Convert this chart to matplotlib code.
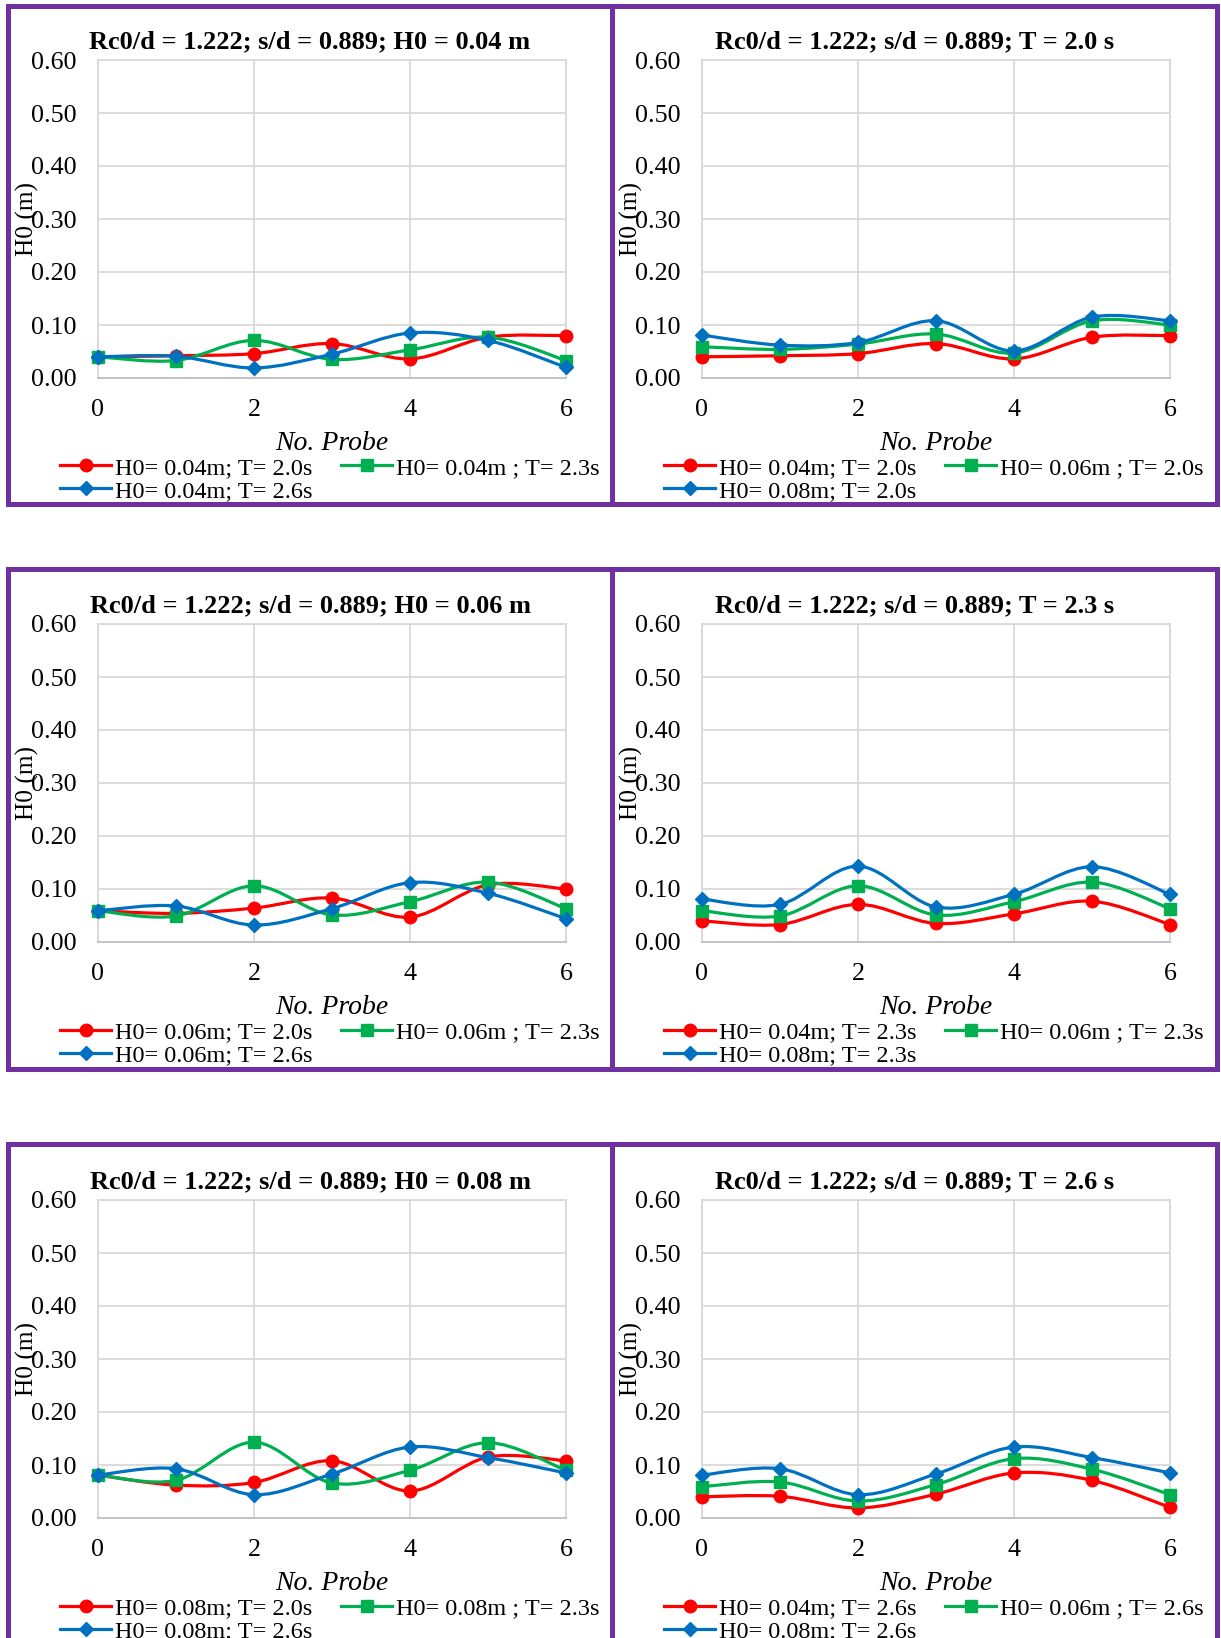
import numpy as np
import matplotlib
matplotlib.use("Agg")
import matplotlib.pyplot as plt
from matplotlib.path import Path
from matplotlib.patches import PathPatch, Rectangle
from matplotlib.lines import Line2D

plt.rcParams['font.family'] = ['Liberation Serif', 'DejaVu Serif']

probe = [0, 1, 2, 3, 4, 5, 6]

# wave height H0 (m) at each probe, one list per (H0, T) test
h04_t20 = [0.040, 0.042, 0.046, 0.065, 0.036, 0.077, 0.080]
h04_t23 = [0.040, 0.033, 0.071, 0.035, 0.053, 0.077, 0.033]
h04_t26 = [0.040, 0.041, 0.019, 0.045, 0.085, 0.071, 0.020]
h06_t20 = [0.059, 0.054, 0.064, 0.083, 0.047, 0.108, 0.100]
h06_t23 = [0.059, 0.049, 0.106, 0.051, 0.076, 0.113, 0.063]
h06_t26 = [0.059, 0.068, 0.032, 0.063, 0.112, 0.092, 0.044]
h08_t20 = [0.081, 0.062, 0.067, 0.108, 0.051, 0.115, 0.108]
h08_t23 = [0.081, 0.071, 0.143, 0.066, 0.090, 0.142, 0.090]
h08_t26 = [0.081, 0.093, 0.044, 0.083, 0.134, 0.114, 0.085]

yticks = [0.0, 0.1, 0.2, 0.3, 0.4, 0.5, 0.6]
xticks = [0, 2, 4, 6]

titles = [
    "Rc0/d = 1.222; s/d = 0.889; H0 = 0.04 m",
    "Rc0/d = 1.222; s/d = 0.889; T = 2.0 s",
    "Rc0/d = 1.222; s/d = 0.889; H0 = 0.06 m",
    "Rc0/d = 1.222; s/d = 0.889; T = 2.3 s",
    "Rc0/d = 1.222; s/d = 0.889; H0 = 0.08 m",
    "Rc0/d = 1.222; s/d = 0.889; T = 2.6 s",
]
series = [
    [h04_t20, h04_t23, h04_t26],
    [h04_t20, h06_t20, h08_t20],
    [h06_t20, h06_t23, h06_t26],
    [h04_t23, h06_t23, h08_t23],
    [h08_t20, h08_t23, h08_t26],
    [h04_t26, h06_t26, h08_t26],
]
labels = [
    ["H0= 0.04m; T= 2.0s", "H0= 0.04m ; T= 2.3s", "H0= 0.04m; T= 2.6s"],
    ["H0= 0.04m; T= 2.0s", "H0= 0.06m ; T= 2.0s", "H0= 0.08m; T= 2.0s"],
    ["H0= 0.06m; T= 2.0s", "H0= 0.06m ; T= 2.3s", "H0= 0.06m; T= 2.6s"],
    ["H0= 0.04m; T= 2.3s", "H0= 0.06m ; T= 2.3s", "H0= 0.08m; T= 2.3s"],
    ["H0= 0.08m; T= 2.0s", "H0= 0.08m ; T= 2.3s", "H0= 0.08m; T= 2.6s"],
    ["H0= 0.04m; T= 2.6s", "H0= 0.06m ; T= 2.6s", "H0= 0.08m; T= 2.6s"],
]

colors = ['#FF0000', '#00B050', '#0070C0']
markers = ['o', 's', 'D']
msizes = [9, 8.5, 7]
purple = '#7030A0'
grid_c = '#D9D9D9'

W, H = 1221, 1638
fig = plt.figure(figsize=(W / 100, H / 100), dpi=100)


def fx(px):
    return px / W


def fy(py):
    return 1 - py / H


def smooth_path(x, y):
    # Catmull-Rom style cubic Bezier through the points (spreadsheet "smoothed line")
    x = np.asarray(x, float)
    y = np.asarray(y, float)
    xp = np.r_[x[0], x, x[-1]]
    yp = np.r_[y[0], y, y[-1]]
    verts = [(x[0], y[0])]
    codes = [Path.MOVETO]
    for i in range(len(x) - 1):
        c1 = (x[i] + (xp[i + 2] - xp[i]) / 6, y[i] + (yp[i + 2] - yp[i]) / 6)
        c2 = (x[i + 1] - (xp[i + 3] - xp[i + 1]) / 6, y[i + 1] - (yp[i + 3] - yp[i + 1]) / 6)
        verts += [c1, c2, (x[i + 1], y[i + 1])]
        codes += [Path.CURVE4] * 3
    return Path(verts, codes)


ax_left = [98, 702]
ax_top = [60, 624, 1200]
ax_w, ax_h = 468, 318
panel_x = [(8, 612), (612, 1217)]
panel_y = [(6, 504), (568.5, 1069), (1144, 1680)]

legend_kw = dict(loc='center left', bbox_transform=fig.transFigure, frameon=False,
                 borderpad=0, borderaxespad=0, handlelength=2.1, handletextpad=0.15,
                 columnspacing=1.2, fontsize=17.5)

for k in range(6):
    row, col = divmod(k, 2)
    left, top = ax_left[col], ax_top[row]
    bottom = top + ax_h
    ax = fig.add_axes([fx(left), fy(bottom), ax_w / W, ax_h / H])

    handles = []
    for j, ys in enumerate(series[k]):
        ax.add_patch(PathPatch(smooth_path(probe, ys), fill=False,
                               edgecolor=colors[j], lw=2.3, zorder=3 + j))
        ax.plot(probe, ys, linestyle='none', marker=markers[j], ms=msizes[j],
                color=colors[j], clip_on=False, zorder=3 + j)
        handles.append(Line2D([], [], color=colors[j], lw=2.3, marker=markers[j],
                              ms=msizes[j], label=labels[k][j]))

    ax.set_xlim(0, 6)
    ax.set_ylim(0, 0.6)
    ax.set_xticks(xticks)
    ax.set_yticks(yticks)
    ax.set_yticklabels([f"{v:.2f}" for v in yticks])
    ax.grid(True, color=grid_c, lw=1.3)
    ax.set_axisbelow(True)
    for s in ax.spines.values():
        s.set_color(grid_c)
        s.set_linewidth(1.3)
    ax.spines['bottom'].set_color('#BFBFBF')
    ax.tick_params(axis='both', length=0, labelsize=18.7)
    ax.tick_params(axis='x', pad=15)
    ax.tick_params(axis='y', pad=15.5)

    ax.set_ylabel("H0 (m)", fontsize=18.2)
    ax.yaxis.set_label_coords(-59 / ax_w, 0.5)
    ax.set_xlabel("No. Probe", fontsize=20, style='italic')
    ax.xaxis.set_label_coords(0.5, -53 / ax_h)

    # legend: first line holds red and green, second line holds blue
    leg1 = ax.legend(handles=[handles[0], handles[1]], ncol=2,
                     bbox_to_anchor=(fx(left - 38), fy(bottom + 90)), **legend_kw)
    ax.add_artist(leg1)
    ax.legend(handles=[handles[2]], ncol=1,
              bbox_to_anchor=(fx(left - 38), fy(bottom + 113)), **legend_kw)

    px0, px1 = panel_x[col]
    fig.text(fx((px0 + px1) / 2), fy(top - 18), titles[k], ha='center', va='center',
             fontsize=19, fontweight='bold')

# purple frame round each chart
for (py0, py1) in panel_y:
    for (px0, px1) in panel_x:
        fig.add_artist(Rectangle((fx(px0), fy(py1)), fx(px1) - fx(px0), fy(py0) - fy(py1),
                                 transform=fig.transFigure, fill=False,
                                 edgecolor=purple, lw=3.6, zorder=10))

fig.savefig("out.png", dpi=100)
